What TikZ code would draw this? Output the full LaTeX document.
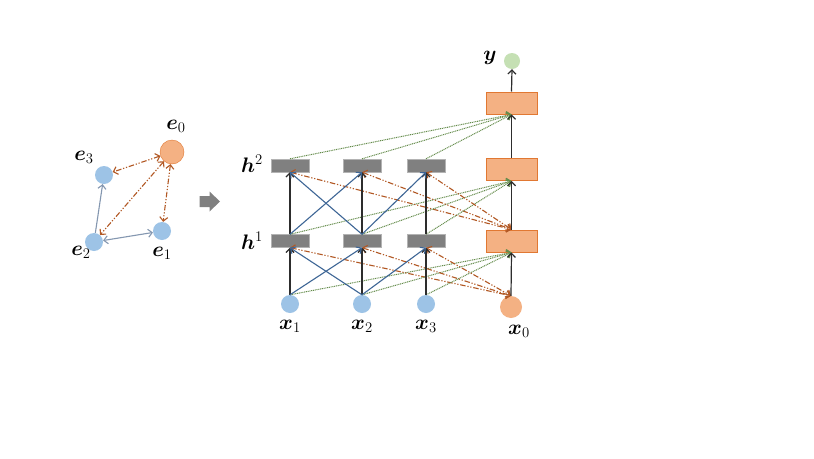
\RequirePackage{fix-cm}
\documentclass[tikz,border=0pt]{standalone}
\usepackage{amsmath, bm}
\usetikzlibrary{arrows.meta, positioning, shapes}

\definecolor{nodeblue}{RGB}{157,195,230}
\definecolor{nodeorange}{RGB}{244,177,131}
\definecolor{edgeorange}{RGB}{225,120,50}
\definecolor{hidgray}{RGB}{128,128,128}
\definecolor{outgreen}{RGB}{197,224,180}
\definecolor{linkbrown}{RGB}{178,88,36}
\definecolor{linkgreen}{RGB}{100,140,75}
\definecolor{linkblue}{RGB}{62,102,150}
\definecolor{graphblue}{RGB}{132,151,176}
\definecolor{linkblack}{RGB}{45,45,45}

\begin{document}
\begin{tikzpicture}[x=1pt, y=-1pt, >={Straight Barb[length=4pt,width=8pt]},
    inp/.style={circle, fill=nodeblue, minimum size=18pt, inner sep=0pt},
    ctx/.style={circle, fill=nodeorange, draw=edgeorange, minimum size=24pt, inner sep=0pt},
    hid/.style={rectangle, fill=hidgray, draw=hidgray!60, minimum width=38pt, minimum height=13pt, inner sep=0pt},
    outbox/.style={rectangle, fill=nodeorange, draw=edgeorange, line width=1pt, minimum width=51pt, minimum height=22pt, inner sep=0pt},
    lab/.style={font=\fontsize{21}{24}\selectfont, inner sep=0pt},
    plain/.style={->, linkblack, line width=1.2pt},
    cross/.style={->, linkblue, line width=1.1pt},
    glink/.style={->, graphblue, line width=1.1pt},
    ctxlink/.style={<->, linkbrown, line width=1.1pt, dash pattern=on 5.5pt off 1.8pt on 1.2pt off 1.8pt on 1.2pt off 1.8pt},
    skip/.style={->, linkgreen, line width=1pt, dash pattern=on 1pt off 0.8pt}]
  \path[use as bounding box, fill=white] (0,0) rectangle (814,458);

  % context graph
  \node[ctx] (e0) at (172,152) {};
  \node[inp] (e3) at (104,175) {};
  \node[inp] (e2) at (94,242) {};
  \node[inp] (e1) at (162,231) {};
  \node[lab] (e0lab) at (176,126) {$\bm{e}_0$};
  \node[lab] (e3lab) at (84,157) {$\bm{e}_3$};
  \node[lab] (e2lab) at (81,252) {$\bm{e}_2$};
  \node[lab] (e1lab) at (162,253) {$\bm{e}_1$};
  \draw[glink] (e2) -- (e3);
  \draw[glink, <->] (e2) -- (e1);
  \draw[ctxlink] (e0) -- (e3);
  \draw[ctxlink] (e0) -- (e2);
  \draw[ctxlink] (e0) -- (e1);

  % gray arrow
  \fill[hidgray] (199.5,196) -- (209.5,196) -- (209.5,191.5) -- (220,201.5)
    -- (209.5,211.5) -- (209.5,207) -- (199.5,207) -- cycle;

  % network
  \foreach \i/\xx in {1/290,2/362,3/426} {
    \node[inp] (x\i) at (\xx,304) {};
    \node[hid] (h1-\i) at (\xx,241) {};
    \node[hid] (h2-\i) at (\xx,165.5) {};
    \node[lab, below=7pt of x\i] (x\i lab) {$\bm{x}_\i$};
  }
  \node[ctx, draw=none, minimum size=22pt] (x0) at (511,307) {};
  \node[lab, below=7pt of x0, xshift=8pt] (x0lab) {$\bm{x}_0$};
  \node[outbox] (o1) at (511.5,241) {};
  \node[outbox] (o2) at (511.5,169.5) {};
  \node[outbox] (o3) at (511.5,103) {};
  \node[circle, fill=outgreen, minimum size=16pt, inner sep=0pt] (y) at (512,61) {};
  \node[lab] (ylab) at (490,58) {$\bm{y}$};
  \node[lab] (h2lab) at (252,164) {$\bm{h}^2$};
  \node[lab] (h1lab) at (252,241) {$\bm{h}^1$};

  \foreach \i in {1,2,3} {
    \draw[skip] (x\i.north) -- (o1.south);
    \draw[skip] (h1-\i.north) -- (o2.south);
    \draw[skip] (h2-\i.north) -- (o3.south);
    \draw[ctxlink] (h1-\i.south) -- (x0.north);
    \draw[ctxlink] (h2-\i.south) -- (o1.north);
    \draw[plain] (x\i.north) -- (h1-\i.south);
    \draw[plain] (h1-\i.north) -- (h2-\i.south);
  }
  \foreach \a/\b in {1/2,2/1,2/3} {
    \draw[cross] (x\a.north) -- (h1-\b.south);
    \draw[cross] (h1-\a.north) -- (h2-\b.south);
  }
  \draw[plain] (x0.north) -- (o1.south);
  \draw[plain] (o1.north) -- (o2.south);
  \draw[plain] (o2.north) -- (o3.south);
  \draw[plain] (o3.north) -- (y.south);
\end{tikzpicture}
\end{document}
